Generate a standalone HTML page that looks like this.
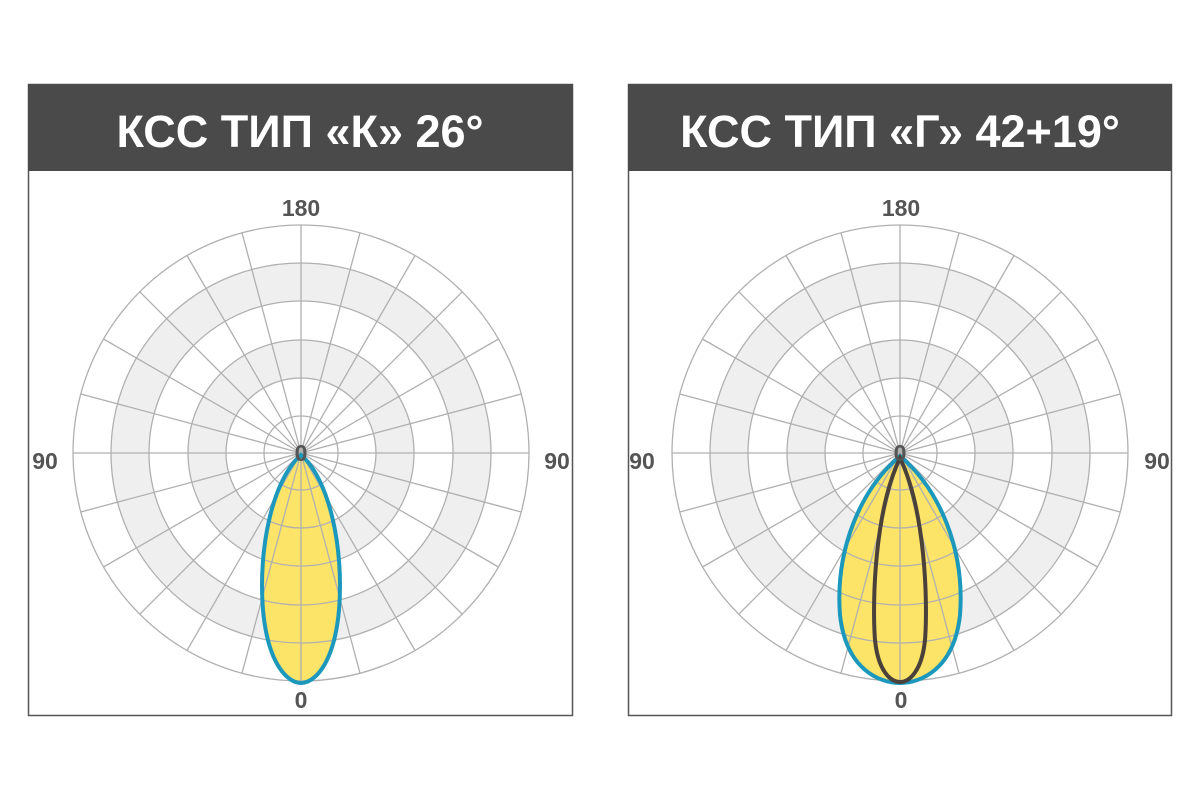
<!DOCTYPE html>
<html><head><meta charset="utf-8"><style>
html,body{margin:0;padding:0;background:#fff;width:1200px;height:800px;overflow:hidden}
</style></head><body>
<svg width="1200" height="800" viewBox="0 0 1200 800" xmlns="http://www.w3.org/2000/svg" font-family="Liberation Sans, DejaVu Sans, sans-serif">
<defs>
<g id="grid">
  <circle r="228" fill="#fff"/>
  <circle r="190" fill="#efefef"/><circle r="152" fill="#fff"/>
  <circle r="113" fill="#efefef"/><circle r="75" fill="#fff"/>
</g>
<g id="lines" fill="none" stroke="#b0b0b0" stroke-width="1.3">
  <circle r="228"/><circle r="190"/><circle r="152"/><circle r="113"/><circle r="75"/><circle r="37"/>
  <line x1="-228" y1="0" x2="228" y2="0"/>
  <line x1="0" y1="-228" x2="0" y2="228"/>
  <line x1="-220.2" y1="-59" x2="220.2" y2="59"/>
  <line x1="-197.5" y1="-114" x2="197.5" y2="114"/>
  <line x1="-161.2" y1="-161.2" x2="161.2" y2="161.2"/>
  <line x1="-114" y1="-197.5" x2="114" y2="197.5"/>
  <line x1="-59" y1="-220.2" x2="59" y2="220.2"/>
  <line x1="220.2" y1="-59" x2="-220.2" y2="59"/>
  <line x1="197.5" y1="-114" x2="-197.5" y2="114"/>
  <line x1="161.2" y1="-161.2" x2="-161.2" y2="161.2"/>
  <line x1="114" y1="-197.5" x2="-114" y2="197.5"/>
  <line x1="59" y1="-220.2" x2="-59" y2="220.2"/>
</g>
</defs>
<!-- Left panel -->
<rect x="28.5" y="84.5" width="544" height="631" fill="#fff" stroke="#555" stroke-width="1.5"/>
<rect x="28" y="84" width="545" height="87" fill="#4a4a4a"/>
<text x="300" y="147" text-anchor="middle" fill="#fff" font-size="45" font-weight="bold">КСС ТИП «К» 26°</text>
<g transform="translate(301,453)"><use href="#grid"/></g>
<path d="M301,455 C272,480 258,550 263,610 C268,665 288,683 301,683 C314,683 334,665 339,610 C344,550 330,480 301,455Z" fill="#fce468"/>
<g transform="translate(301,453)"><use href="#lines"/></g>
<path d="M301,455 C272,480 258,550 263,610 C268,665 288,683 301,683 C314,683 334,665 339,610 C344,550 330,480 301,455Z" fill="none" stroke="#1c98bd" stroke-width="4"/>
<g fill="#555" font-size="23" font-weight="bold" text-anchor="middle">
<text x="301" y="216">180</text><text x="301" y="461">0</text><text x="301" y="708">0</text>
<text x="45" y="469">90</text><text x="557" y="469">90</text>
</g>
<!-- Right panel -->
<rect x="628.5" y="84.5" width="543" height="631" fill="#fff" stroke="#555" stroke-width="1.5"/>
<rect x="628" y="84" width="544" height="87" fill="#4a4a4a"/>
<text x="900" y="147" text-anchor="middle" fill="#fff" font-size="45" font-weight="bold">КСС ТИП «Г» 42+19°</text>
<g transform="translate(900,453)"><use href="#grid"/></g>
<path d="M900,456 C860,490 835,550 840,615 C846,670 880,683 900,683 C920,683 954,670 960,615 C965,550 940,490 900,456Z" fill="#fce468"/>
<g transform="translate(900,453)"><use href="#lines"/></g>
<path d="M900,456 C860,490 835,550 840,615 C846,670 880,683 900,683 C920,683 954,670 960,615 C965,550 940,490 900,456Z" fill="none" stroke="#1c98bd" stroke-width="4"/>
<path d="M900,458 C875,510 872,600 875,640 C878,670 890,682 900,682 C910,682 922,670 925,640 C928,600 925,510 900,458Z" fill="none" stroke="#4a413a" stroke-width="4"/>
<g fill="#555" font-size="23" font-weight="bold" text-anchor="middle">
<text x="901" y="216">180</text><text x="900" y="461">0</text><text x="901" y="708">0</text>
<text x="642" y="469">90</text><text x="1157" y="469">90</text>
</g>
</svg>
</body></html>
